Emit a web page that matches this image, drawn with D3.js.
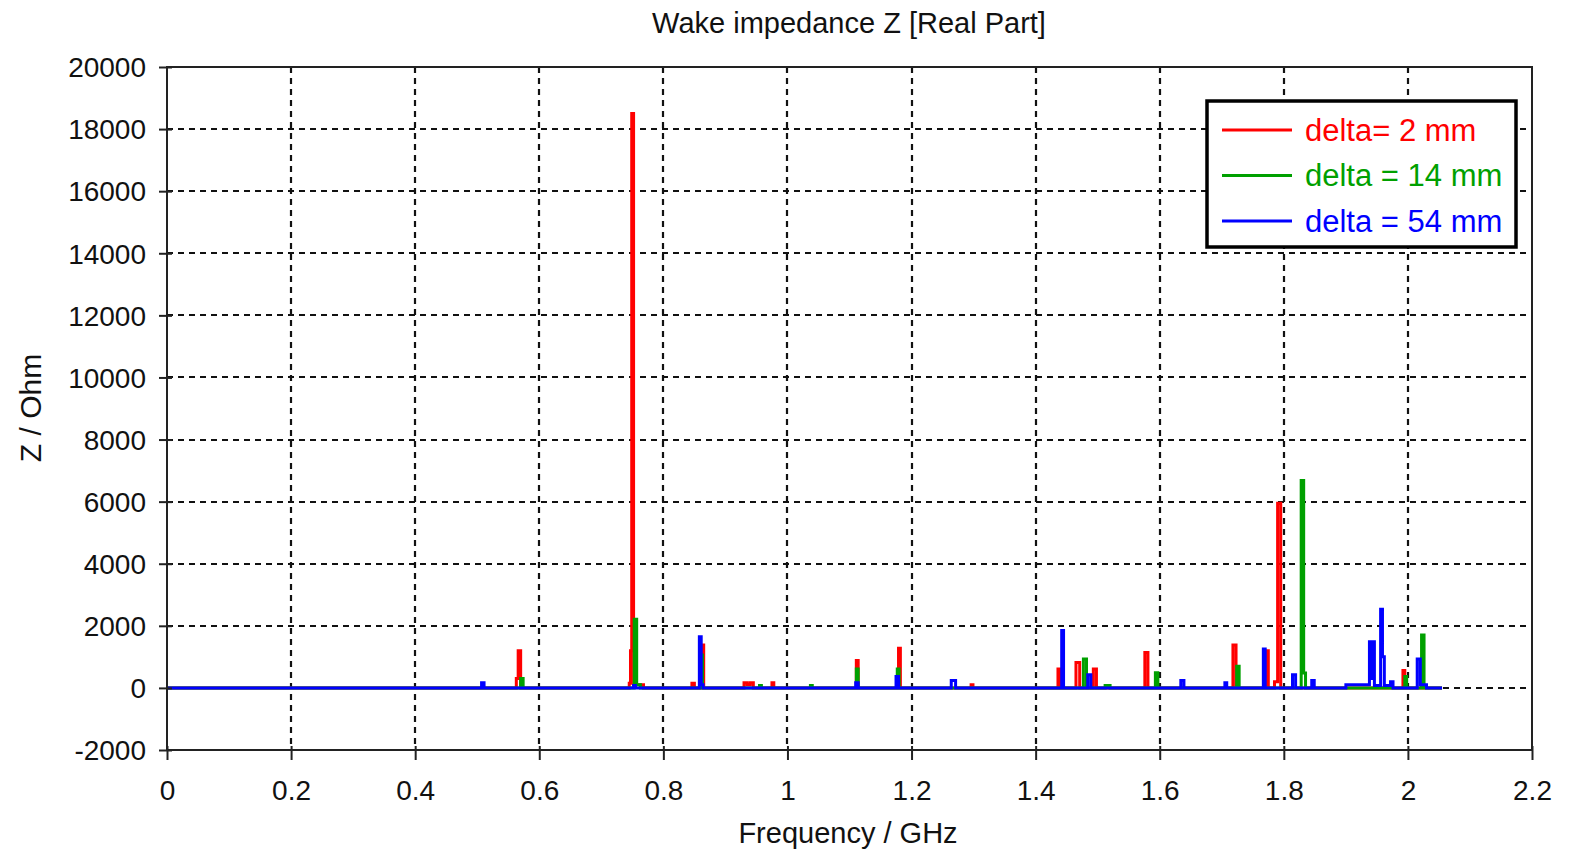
<!DOCTYPE html>
<html>
<head>
<meta charset="utf-8">
<script src="https://cdn.jsdelivr.net/npm/d3@7"></script>
<style>
  body { margin: 0; background: #fff; }
  svg { display: block; }
</style>
</head>
<body>
<svg id="chart" width="1571" height="852"></svg>
<script>
// peak readings, [frequency GHz, Z Ohm]
const redPoints = [
  [0, 0], [0.563, 300], [0.566, 1200], [0.570, 0],
  [0.745, 150], [0.747, 1200], [0.749, 18500], [0.752, 100], [0.768, 0],
  [0.846, 150], [0.850, 0], [0.862, 1380], [0.865, 0],
  [0.930, 170], [0.935, 100], [0.940, 170], [0.945, 0],
  [0.975, 170], [0.978, 0],
  [1.111, 880], [1.114, 0], [1.179, 1280], [1.182, 0],
  [1.296, 100], [1.299, 0],
  [1.436, 610], [1.439, 0], [1.465, 815], [1.471, 0], [1.493, 610], [1.498, 0],
  [1.576, 1140], [1.581, 0],
  [1.718, 1385], [1.723, 0], [1.772, 1200], [1.775, 0],
  [1.785, 200], [1.790, 5950], [1.795, 0],
  [1.992, 560], [1.995, 0], [2.055, 0]
];
const greenPoints = [
  [0, 0], [0.570, 300], [0.574, 0],
  [0.753, 2210], [0.757, 100], [0.763, 0],
  [0.860, 1060], [0.863, 0],
  [0.955, 80], [0.958, 0], [1.037, 80], [1.040, 0],
  [1.111, 610], [1.114, 0], [1.177, 610], [1.180, 0],
  [1.477, 935], [1.482, 0], [1.512, 80], [1.520, 0],
  [1.593, 490], [1.597, 0],
  [1.724, 700], [1.728, 0],
  [1.828, 6680], [1.832, 480], [1.835, 0],
  [1.995, 365], [1.998, 0],
  [2.022, 1707], [2.026, 0], [2.055, 0]
];
const bluePoints = [
  [0, 0], [0.507, 170], [0.511, 0],
  [0.752, 80], [0.755, 0],
  [0.858, 1650], [0.861, 100], [0.864, 0],
  [1.110, 170], [1.114, 0], [1.175, 365], [1.179, 0],
  [1.264, 235], [1.271, 0],
  [1.442, 1846], [1.445, 0], [1.484, 420], [1.489, 0],
  [1.634, 235], [1.639, 0], [1.705, 170], [1.708, 0],
  [1.767, 1250], [1.770, 0],
  [1.814, 420], [1.819, 0], [1.845, 235], [1.849, 0],
  [1.900, 100], [1.938, 1490], [1.941, 300], [1.943, 1490], [1.946, 80],
  [1.956, 2534], [1.959, 1000], [1.962, 80], [1.972, 200], [1.976, 0],
  [2.015, 935], [2.020, 100], [2.030, 0], [2.055, 0]
];

const seriesNames = ["delta= 2 mm", "delta = 14 mm", "delta = 54 mm"];
const seriesColors = ["#ff0000", "#00a000", "#0000ff"];
const seriesData = [redPoints, greenPoints, bluePoints];

const xTicks = [0, 0.2, 0.4, 0.6, 0.8, 1, 1.2, 1.4, 1.6, 1.8, 2, 2.2];
const yTicks = [-2000, 0, 2000, 4000, 6000, 8000, 10000, 12000, 14000, 16000, 18000, 20000];

const font = "'Liberation Sans', Arial, sans-serif";
const svg = d3.select("#chart");

const margin = {left: 167, right: 1571 - 1532, top: 67, bottom: 852 - 750};
const width = 1571 - margin.left - margin.right;
const height = 852 - margin.top - margin.bottom;

const x = d3.scaleLinear().domain([0, 2.2]).range([0, width]);
const y = d3.scaleLinear().domain([-2000, 20000]).range([height, 0]);

const g = svg.append("g").attr("transform", `translate(${margin.left},${margin.top})`);

// grid
g.append("g")
  .selectAll("line")
  .data(xTicks.slice(1, -1))
  .enter().append("line")
    .attr("x1", (d) => Math.round(x(d))).attr("x2", (d) => Math.round(x(d)))
    .attr("y1", 0).attr("y2", height)
    .style("stroke", "#111").style("stroke-width", 2.2)
    .style("stroke-dasharray", "6,5");

g.append("g")
  .selectAll("line")
  .data(yTicks.slice(1, -1))
  .enter().append("line")
    .attr("y1", (d) => Math.round(y(d))).attr("y2", (d) => Math.round(y(d)))
    .attr("x1", 0).attr("x2", width)
    .style("stroke", "#111").style("stroke-width", 2.2)
    .style("stroke-dasharray", "6,5");

// series
const line = d3.line()
  .x((d) => x(d[0]))
  .y((d) => y(d[1]))
  .curve(d3.curveStepAfter);

seriesData.forEach((pts, i) => {
  g.append("path")
    .datum(pts)
    .attr("d", line)
    .style("fill", "none")
    .style("stroke", seriesColors[i])
    .style("stroke-width", 3)
    .style("stroke-linejoin", "miter");
});

// frame
g.append("rect")
  .attr("width", width).attr("height", height)
  .style("fill", "none").style("stroke", "#222").style("stroke-width", 2);

// axes
const xAxis = g.append("g")
  .attr("transform", `translate(0,${height})`)
  .call(d3.axisBottom(x).tickValues(xTicks).tickSizeInner(10).tickSizeOuter(0)
    .tickFormat(d3.format("~g")));
const yAxis = g.append("g")
  .call(d3.axisLeft(y).tickValues(yTicks).tickSizeInner(8).tickSizeOuter(0)
    .tickFormat((d) => String(d)));

[xAxis, yAxis].forEach((ax) => {
  ax.select(".domain").remove();
  ax.selectAll(".tick line").style("stroke", "#222").style("stroke-width", 2);
  ax.selectAll("text")
    .style("font-family", font)
    .style("font-size", "28px")
    .style("fill", "#111");
});
xAxis.selectAll(".tick line").attr("y1", -4);
yAxis.selectAll(".tick line").attr("x1", 5);
xAxis.selectAll("text").attr("dy", "0").attr("y", 50);
yAxis.selectAll("text").attr("x", -21).attr("dy", "0.35em");

// titles
svg.append("text")
  .text("Wake impedance Z [Real Part]")
  .attr("x", 849).attr("y", 33)
  .attr("text-anchor", "middle")
  .style("font-family", font).style("font-size", "29px").style("fill", "#111");

svg.append("text")
  .text("Frequency / GHz")
  .attr("x", 848).attr("y", 843)
  .attr("text-anchor", "middle")
  .style("font-family", font).style("font-size", "29px").style("fill", "#111");

svg.append("text")
  .text("Z / Ohm")
  .attr("transform", "translate(41,408) rotate(-90)")
  .attr("text-anchor", "middle")
  .style("font-family", font).style("font-size", "30px").style("fill", "#111");

// legend
const legend = svg.append("g").attr("transform", "translate(1207,101)");
legend.append("rect")
  .attr("width", 309).attr("height", 146)
  .style("fill", "#fff").style("stroke", "#000").style("stroke-width", 3.5);

const items = legend.selectAll("g.item")
  .data(seriesNames)
  .enter().append("g")
    .attr("class", "item")
    .attr("transform", (d, i) => `translate(0,${29 + i * 45.5})`);

items.append("line")
  .attr("x1", 15).attr("x2", 85)
  .style("stroke", (d, i) => seriesColors[i])
  .style("stroke-width", 3);

items.append("text")
  .text((d) => d)
  .attr("x", 98).attr("dy", "0.35em")
  .style("font-family", font).style("font-size", "31px")
  .style("fill", (d, i) => seriesColors[i]);
</script>
</body>
</html>
